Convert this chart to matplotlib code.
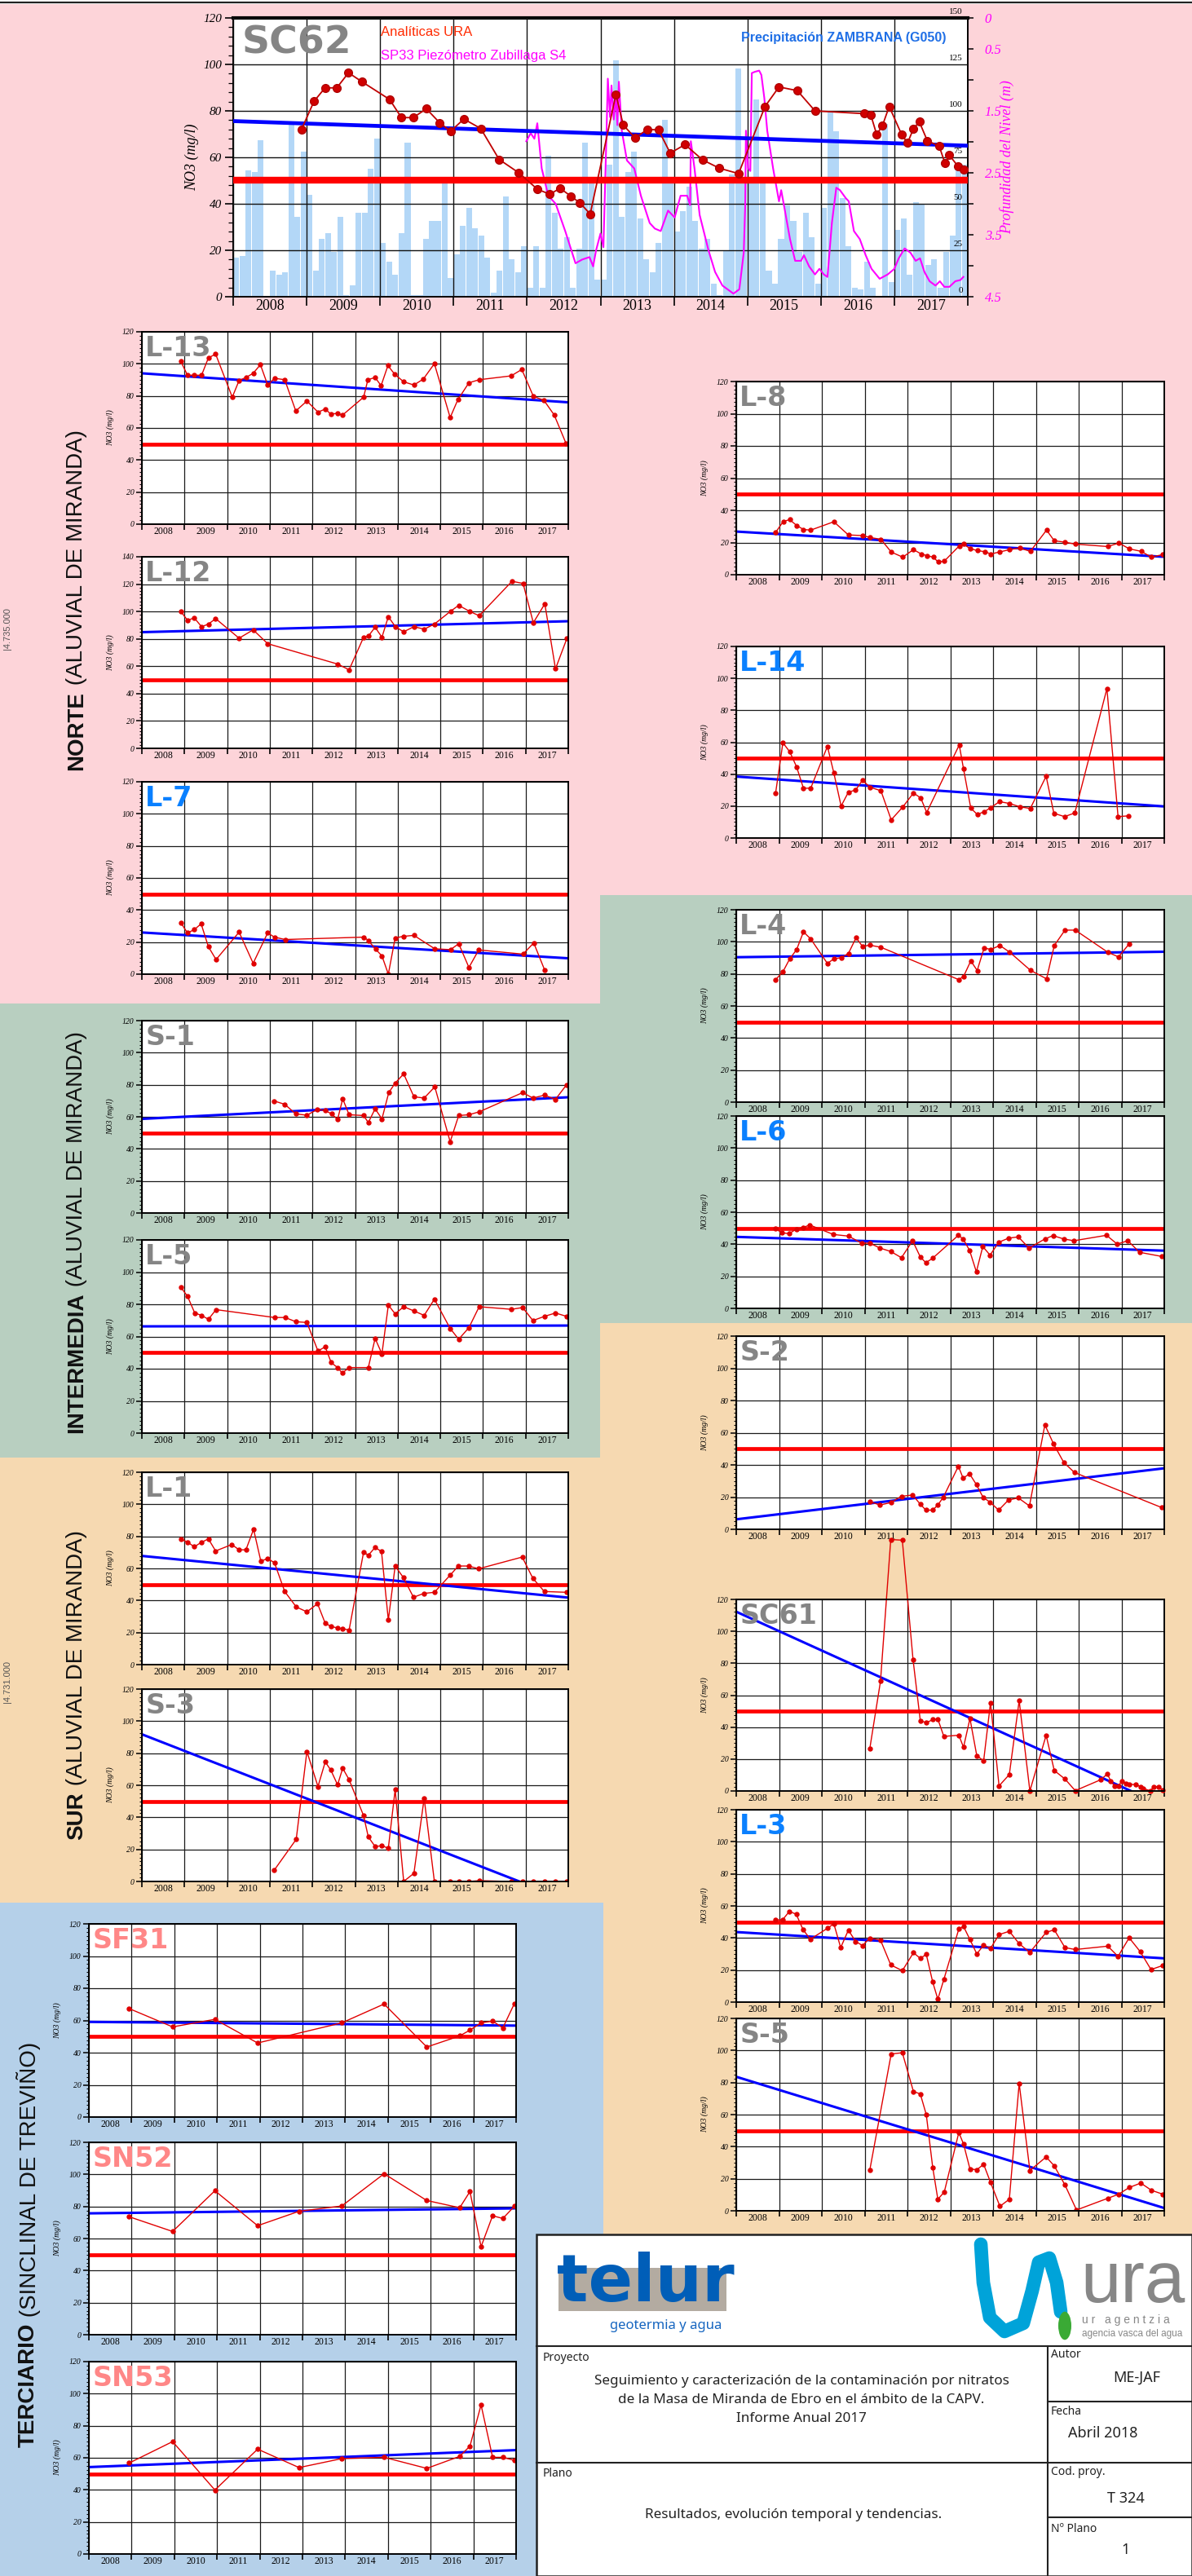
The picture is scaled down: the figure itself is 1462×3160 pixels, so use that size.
import numpy as np
import matplotlib.pyplot as plt
from matplotlib.patches import Rectangle, Circle
from matplotlib.lines import Line2D
from matplotlib.ticker import MultipleLocator
import matplotlib.transforms as mtransforms

plt.rcParams['font.family'] = ['Liberation Sans', 'DejaVu Sans']

YEARS = [str(y) for y in range(2008, 2018)]

# ---------------- SC62 (main chart) ----------------
sc62_t = [2008.93, 2009.10, 2009.25, 2009.41, 2009.57, 2009.75, 2010.13, 2010.29, 2010.45, 2010.63,
          2010.81, 2010.96, 2011.14, 2011.37, 2011.62, 2011.89, 2012.14, 2012.31, 2012.45, 2012.60,
          2012.72, 2012.86, 2013.21, 2013.31, 2013.47, 2013.64, 2013.79, 2013.95, 2014.15, 2014.39,
          2014.62, 2014.88, 2015.24, 2015.43, 2015.68, 2015.92, 2016.59, 2016.68, 2016.76, 2016.84,
          2016.93, 2017.10, 2017.18, 2017.26, 2017.34, 2017.45, 2017.61, 2017.69, 2017.75, 2017.87,
          2017.95]
sc62_no3 = [72.0, 84.1, 89.9, 89.9, 96.4, 92.6, 84.9, 77.1, 77.1, 80.9,
            74.9, 71.2, 76.5, 72.4, 59.1, 53.3, 46.3, 44.1, 46.7, 43.2,
            40.4, 35.6, 87.1, 73.9, 68.4, 72.0, 71.8, 61.8, 65.5, 58.9,
            55.3, 53.0, 81.9, 90.3, 88.7, 80.0, 78.8, 78.2, 69.8, 73.8,
            81.9, 69.8, 66.2, 72.3, 75.3, 67.1, 64.9, 57.4, 60.9, 56.0,
            54.9]
sc62_trend = [75.6, 65.0]

# monthly precipitation (mm), Zambrana G050, 2008-2017
precip_mm = [21, 22, 68, 67, 84, 0, 14, 12, 13, 93, 43, 78,
             55, 14, 31, 34, 24, 43, 1, 6, 45, 45, 69, 85,
             29, 19, 12, 34, 83, 1, 1, 31, 41, 41, 63, 10,
             23, 38, 48, 37, 33, 21, 2, 14, 54, 20, 13, 27,
             5, 27, 5, 76, 45, 26, 32, 5, 26, 83, 64, 9,
             9, 71, 127, 43, 67, 78, 42, 20, 13, 29, 95, 64,
             35, 46, 59, 41, 26, 31, 7, 1, 25, 66, 123, 64,
             62, 106, 61, 14, 7, 31, 49, 41, 24, 45, 32, 7,
             48, 100, 89, 53, 27, 5, 4, 19, 5, 0, 93, 8,
             36, 42, 12, 51, 50, 17, 20, 5, 24, 33, 71, 71]

# SP33 piezometer depth (m)
piezo_t = [2011.99, 2012.05, 2012.10, 2012.14, 2012.20, 2012.29, 2012.39, 2012.52, 2012.66, 2012.75,
           2012.85, 2012.90, 2012.94, 2013.00, 2013.04, 2013.08, 2013.10, 2013.13, 2013.15, 2013.18,
           2013.21, 2013.23, 2013.25, 2013.29, 2013.36, 2013.46, 2013.55, 2013.67, 2013.74, 2013.82,
           2013.92, 2014.01, 2014.09, 2014.18, 2014.22, 2014.23, 2014.28, 2014.35, 2014.47, 2014.56,
           2014.66, 2014.81, 2014.89, 2014.95, 2014.97, 2014.98, 2015.01, 2015.04, 2015.06, 2015.10,
           2015.16, 2015.19, 2015.23, 2015.27, 2015.35, 2015.43, 2015.46, 2015.50, 2015.58, 2015.65,
           2015.73, 2015.77, 2015.84, 2015.92, 2015.98, 2016.04, 2016.09, 2016.15, 2016.21, 2016.26,
           2016.34, 2016.38, 2016.45, 2016.53, 2016.61, 2016.69, 2016.80, 2016.91, 2017.00, 2017.06,
           2017.14, 2017.22, 2017.29, 2017.35, 2017.41, 2017.48, 2017.56, 2017.62, 2017.68, 2017.75,
           2017.83, 2017.90, 2017.94]
piezo_depth = [1.99, 1.86, 1.95, 1.70, 2.43, 2.87, 3.00, 3.44, 3.96, 3.90,
               3.86, 4.01, 3.75, 3.48, 3.70, 1.95, 0.98, 1.60, 1.09, 1.64,
               1.25, 1.73, 1.03, 1.82, 2.30, 2.43, 2.87, 3.31, 3.40, 3.44,
               3.11, 3.22, 2.87, 2.87, 3.02, 1.99, 2.43, 3.18, 3.75, 4.10,
               4.32, 4.45, 4.38, 3.79, 3.04, 1.82, 2.43, 2.47, 0.89, 0.87,
               0.85, 0.92, 1.29, 1.82, 2.43, 2.96, 2.78, 3.04, 3.57, 3.92,
               3.92, 3.83, 4.01, 4.14, 4.05, 4.14, 4.18, 3.31, 2.74, 2.78,
               2.91, 2.96, 3.44, 3.57, 3.83, 4.05, 4.21, 4.14, 4.05, 3.88,
               3.72, 3.79, 3.92, 3.88, 4.10, 4.25, 4.32, 4.25, 4.34, 4.34,
               4.25, 4.23, 4.18]

# ---------------- wells: NO3 (mg/l) ----------------
l13_t = [2008.91, 2009.07, 2009.23, 2009.40, 2009.56, 2009.73, 2010.12, 2010.28, 2010.44, 2010.61,
         2010.78, 2010.95, 2011.11, 2011.35, 2011.61, 2011.87, 2012.13, 2012.30, 2012.43, 2012.59,
         2012.70, 2013.20, 2013.30, 2013.47, 2013.61, 2013.77, 2013.93, 2014.14, 2014.38, 2014.60,
         2014.86, 2015.23, 2015.41, 2015.67, 2015.91, 2016.66, 2016.91, 2017.18, 2017.43, 2017.67,
         2017.95]
l13_no3 = [101.7, 92.9, 92.9, 92.9, 103.7, 106.1, 79.2, 89.6, 91.5, 94.1,
           99.5, 86.8, 91.0, 90.1, 70.6, 76.8, 69.9, 71.8, 68.7, 69.1,
           67.9, 79.2, 90.1, 91.5, 86.4, 98.9, 93.5, 88.8, 86.8, 90.5,
           100.1, 66.5, 77.6, 88.2, 90.1, 92.5, 96.5, 79.8, 77.2, 68.1,
           50.2]
l13_trend = [94.1, 76.0]

l12_t = [2008.91, 2009.07, 2009.23, 2009.40, 2009.56, 2009.73, 2010.28, 2010.61, 2010.95, 2012.59,
         2012.86, 2013.20, 2013.32, 2013.47, 2013.63, 2013.78, 2013.95, 2014.14, 2014.38, 2014.62,
         2014.86, 2015.24, 2015.43, 2015.68, 2015.91, 2016.68, 2016.94, 2017.18, 2017.45, 2017.70,
         2017.97]
l12_no3 = [100.2, 93.6, 95.3, 88.9, 90.8, 94.8, 80.5, 86.6, 76.5, 61.6,
           57.4, 81.2, 82.4, 88.5, 81.2, 96.2, 88.7, 85.2, 88.9, 87.1,
           90.8, 100.2, 104.5, 100.2, 96.9, 122.1, 120.5, 91.8, 105.6, 58.1,
           80.5]
l12_trend = [84.9, 92.9]

l7_t = [2008.91, 2009.07, 2009.23, 2009.39, 2009.56, 2009.74, 2010.28, 2010.61, 2010.95, 2011.11,
        2011.36, 2013.21, 2013.31, 2013.48, 2013.63, 2013.78, 2013.94, 2014.14, 2014.38, 2014.87,
        2015.24, 2015.43, 2015.67, 2015.90, 2016.94, 2017.19, 2017.45]
l7_no3 = [32.2, 25.7, 27.8, 31.4, 17.1, 9.1, 26.2, 6.8, 25.7, 23.1,
          21.6, 23.1, 21.0, 15.6, 11.4, 0.0, 22.6, 23.6, 24.2, 15.8,
          15.3, 19.0, 4.2, 15.1, 12.5, 19.5, 2.3]
l7_trend = [26.0, 9.9]

s1_t = [2011.10, 2011.35, 2011.61, 2011.87, 2012.12, 2012.30, 2012.45, 2012.59, 2012.71, 2012.86,
        2013.20, 2013.31, 2013.47, 2013.63, 2013.79, 2013.94, 2014.14, 2014.38, 2014.62, 2014.87,
        2015.23, 2015.43, 2015.67, 2015.91, 2016.93, 2017.17, 2017.44, 2017.70, 2017.96]
s1_no3 = [69.9, 67.8, 61.8, 61.0, 64.7, 63.9, 61.8, 58.4, 71.2, 61.3,
          60.8, 56.4, 65.0, 58.7, 75.1, 81.0, 86.8, 72.5, 71.7, 78.7,
          44.4, 60.8, 61.3, 63.1, 75.1, 71.7, 73.5, 70.9, 80.0]
s1_trend = [58.7, 72.2]

l5_t = [2008.91, 2009.07, 2009.24, 2009.40, 2009.56, 2009.74, 2011.11, 2011.36, 2011.61, 2011.87,
        2012.13, 2012.30, 2012.44, 2012.59, 2012.70, 2012.86, 2013.31, 2013.47, 2013.63, 2013.78,
        2013.94, 2014.14, 2014.38, 2014.62, 2014.86, 2015.23, 2015.43, 2015.67, 2015.91, 2016.67,
        2016.93, 2017.17, 2017.44, 2017.70, 2017.96]
l5_no3 = [90.7, 85.0, 74.6, 73.1, 70.7, 76.7, 71.8, 71.8, 69.2, 68.7,
          51.0, 53.6, 43.8, 40.7, 37.3, 40.7, 40.7, 58.8, 49.2, 79.5,
          74.1, 78.5, 75.9, 73.1, 83.2, 65.0, 58.3, 65.5, 78.5, 76.9,
          78.0, 69.9, 72.5, 74.6, 72.5]
l5_trend = [66.3, 66.8]

l1_t = [2008.91, 2009.07, 2009.23, 2009.39, 2009.56, 2009.73, 2010.11, 2010.28, 2010.44, 2010.62,
        2010.79, 2010.95, 2011.11, 2011.35, 2011.62, 2011.87, 2012.12, 2012.30, 2012.44, 2012.58,
        2012.71, 2012.86, 2013.20, 2013.31, 2013.47, 2013.62, 2013.78, 2013.94, 2014.13, 2014.37,
        2014.61, 2014.86, 2015.23, 2015.42, 2015.66, 2015.90, 2016.92, 2017.17, 2017.44, 2017.96]
l1_no3 = [78.4, 76.4, 73.5, 76.2, 78.4, 70.9, 74.9, 71.6, 71.6, 84.4,
          64.5, 66.2, 63.5, 45.6, 36.0, 32.9, 38.0, 25.8, 23.8, 22.9,
          22.4, 21.6, 70.2, 68.2, 73.1, 70.5, 27.8, 61.5, 54.4, 42.0,
          44.4, 45.1, 55.8, 61.5, 61.5, 59.8, 67.1, 53.8, 45.6, 45.1]
l1_trend = [67.8, 41.8]

s3_t = [2011.10, 2011.62, 2011.87, 2012.13, 2012.30, 2012.43, 2012.59, 2012.71, 2012.86, 2013.20,
        2013.31, 2013.47, 2013.63, 2013.78, 2013.94, 2014.14, 2014.38, 2014.62, 2014.86, 2015.23,
        2015.43, 2015.67, 2015.91, 2016.67, 2016.93, 2017.18, 2017.44, 2017.70, 2017.96]
s3_no3 = [6.9, 26.3, 81.1, 59.2, 74.6, 69.5, 60.3, 70.6, 63.5, 41.0,
          27.8, 21.8, 22.3, 20.7, 57.4, 0.0, 5.1, 51.9, 0.0, 0.0,
          0.0, 0.0, 0.5, 0.0, 0.0, 0.0, 0.0, 0.0, 0.0]
s3_trend = [91.8, -11.9]

sf31_t = [2008.94, 2009.96, 2010.95, 2011.95, 2013.92, 2014.91, 2015.91, 2016.68, 2016.92, 2017.18,
          2017.45, 2017.69, 2017.96]
sf31_no3 = [67.4, 56.0, 60.7, 46.0, 58.5, 70.2, 43.5, 50.4, 54.0, 58.5, 59.6, 55.4, 70.5]
sf31_trend = [59.1, 56.8]

sn52_t = [2008.94, 2009.96, 2010.95, 2011.95, 2012.92, 2013.92, 2014.91, 2015.91, 2016.68, 2016.92,
          2017.18, 2017.45, 2017.69, 2017.96]
sn52_no3 = [73.6, 64.4, 89.8, 68.0, 77.0, 80.3, 100.4, 83.7, 79.2, 89.3, 54.9, 74.2, 72.5, 80.1]
sn52_trend = [75.7, 78.8]

sn53_t = [2008.94, 2009.96, 2010.95, 2011.95, 2012.92, 2013.92, 2014.91, 2015.91, 2016.68, 2016.92,
          2017.18, 2017.45, 2017.69, 2017.96]
sn53_no3 = [56.7, 70.1, 39.9, 65.4, 53.9, 59.5, 60.3, 53.4, 60.9, 67.3, 93.0, 60.3, 60.3, 58.4]
sn53_trend = [54.2, 64.8]

l8_t = [2008.92, 2009.10, 2009.25, 2009.41, 2009.57, 2009.74, 2010.28, 2010.62, 2010.96, 2011.13,
        2011.38, 2011.62, 2011.89, 2012.14, 2012.32, 2012.46, 2012.60, 2012.72, 2012.86, 2013.21,
        2013.31, 2013.47, 2013.64, 2013.80, 2013.95, 2014.15, 2014.39, 2014.62, 2014.87, 2015.25,
        2015.43, 2015.68, 2015.92, 2016.68, 2016.94, 2017.18, 2017.46, 2017.70, 2017.96]
l8_no3 = [26.3, 33.1, 34.2, 30.6, 28.1, 27.7, 32.9, 24.7, 24.3, 23.1,
          22.0, 14.1, 10.9, 15.6, 12.9, 11.8, 10.9, 7.9, 8.4, 17.9,
          19.0, 16.1, 15.0, 14.3, 12.9, 14.1, 15.6, 16.6, 14.5, 27.7,
          21.1, 20.2, 19.0, 17.5, 19.7, 16.1, 14.5, 10.9, 12.5]
l8_trend = [26.8, 11.1]

l14_t = [2008.92, 2009.09, 2009.25, 2009.41, 2009.57, 2009.74, 2010.13, 2010.28, 2010.45, 2010.62,
         2010.79, 2010.95, 2011.12, 2011.38, 2011.62, 2011.89, 2012.14, 2012.31, 2012.45, 2013.21,
         2013.31, 2013.48, 2013.63, 2013.79, 2013.95, 2014.15, 2014.39, 2014.62, 2014.87, 2015.24,
         2015.42, 2015.67, 2015.91, 2016.66, 2016.92, 2017.17]
l14_no3 = [28.2, 59.7, 54.0, 44.6, 31.2, 31.2, 57.4, 40.8, 20.0, 28.7,
           30.1, 36.2, 31.9, 29.6, 11.4, 19.4, 28.2, 25.1, 16.0, 58.3,
           43.3, 18.7, 14.8, 16.4, 19.1, 22.8, 21.6, 19.6, 18.5, 38.7,
           15.5, 13.4, 15.7, 93.6, 13.4, 13.9]
l14_trend = [38.5, 19.8]

l4_t = [2008.92, 2009.09, 2009.25, 2009.41, 2009.57, 2009.74, 2010.13, 2010.28, 2010.45, 2010.62,
        2010.80, 2010.95, 2011.12, 2011.38, 2013.20, 2013.31, 2013.48, 2013.63, 2013.79, 2013.95,
        2014.16, 2014.39, 2014.87, 2015.25, 2015.43, 2015.68, 2015.92, 2016.68, 2016.93, 2017.18]
l4_no3 = [76.4, 81.3, 89.4, 95.1, 106.2, 101.8, 86.5, 89.4, 90.1, 92.7,
          102.6, 97.1, 97.9, 96.6, 76.4, 78.4, 88.1, 82.1, 96.1, 95.3,
          97.7, 93.5, 82.3, 76.9, 97.7, 107.3, 107.3, 93.5, 90.6, 98.7]
l4_trend = [90.4, 93.8]

l6_t = [2008.91, 2009.07, 2009.23, 2009.40, 2009.56, 2009.72, 2010.27, 2010.62, 2010.93, 2011.12,
        2011.36, 2011.61, 2011.86, 2012.12, 2012.30, 2012.43, 2012.59, 2013.19, 2013.30, 2013.45,
        2013.61, 2013.76, 2013.93, 2014.13, 2014.36, 2014.59, 2014.84, 2015.21, 2015.40, 2015.65,
        2015.89, 2016.65, 2016.90, 2017.15, 2017.42, 2017.94]
l6_no3 = [49.7, 47.2, 46.6, 49.4, 50.5, 52.0, 46.1, 45.1, 40.7, 40.7,
          37.6, 35.5, 31.6, 42.2, 32.1, 28.5, 31.3, 45.6, 43.3, 36.3,
          22.8, 38.6, 33.2, 41.2, 43.8, 44.6, 37.6, 43.3, 45.4, 43.3,
          42.2, 45.6, 40.1, 42.2, 35.0, 32.4]
l6_trend = [44.6, 36.0]

s2_t = [2011.12, 2011.36, 2011.61, 2011.86, 2012.12, 2012.30, 2012.43, 2012.59, 2012.71, 2012.84,
        2013.19, 2013.30, 2013.45, 2013.61, 2013.77, 2013.93, 2014.13, 2014.36, 2014.59, 2014.85,
        2015.21, 2015.41, 2015.65, 2015.90, 2017.94]
s2_no3 = [17.1, 15.1, 16.6, 20.5, 21.3, 15.6, 11.9, 11.9, 15.1, 20.0,
          39.2, 31.7, 34.5, 27.8, 19.7, 16.9, 11.9, 18.2, 19.5, 14.5,
          64.9, 53.2, 41.6, 35.3, 13.5]
s2_trend = [6.2, 37.9]

sc61_t = [2011.12, 2011.37, 2011.61, 2011.88, 2012.13, 2012.30, 2012.44, 2012.59, 2012.71, 2012.85,
          2013.20, 2013.31, 2013.46, 2013.62, 2013.78, 2013.94, 2014.14, 2014.38, 2014.61, 2014.86,
          2015.24, 2015.43, 2015.68, 2015.92, 2016.52, 2016.67, 2016.75, 2016.84, 2016.93, 2017.01,
          2017.11, 2017.19, 2017.33, 2017.45, 2017.51, 2017.68, 2017.75, 2017.86, 2017.96]
sc61_no3 = [26.5, 68.7, 157.5, 157.1, 82.4, 44.1, 42.7, 44.7, 45.0, 34.2,
            34.9, 27.4, 45.4, 22.1, 18.9, 55.3, 3.2, 10.3, 56.6, 0.0,
            34.9, 12.8, 7.5, 0.2, 7.1, 10.7, 6.2, 3.2, 3.2, 6.2,
            4.8, 4.1, 4.1, 2.7, 1.6, 0.0, 2.7, 2.7, 0.7]
sc61_trend = [112.3, -9.5]

l3_t = [2008.91, 2009.08, 2009.24, 2009.40, 2009.56, 2009.73, 2010.14, 2010.28, 2010.44, 2010.62,
        2010.79, 2010.95, 2011.12, 2011.37, 2011.61, 2011.88, 2012.14, 2012.30, 2012.44, 2012.59,
        2012.71, 2012.85, 2013.20, 2013.31, 2013.46, 2013.62, 2013.78, 2013.94, 2014.14, 2014.38,
        2014.61, 2014.86, 2015.24, 2015.43, 2015.68, 2015.92, 2016.68, 2016.92, 2017.18, 2017.44,
        2017.69, 2017.96]
l3_no3 = [51.3, 51.3, 56.5, 54.9, 45.3, 39.2, 46.2, 48.9, 34.0, 44.9,
          37.8, 35.3, 39.9, 38.7, 23.2, 19.6, 30.8, 27.3, 29.8, 12.5,
          1.8, 14.1, 45.6, 47.2, 39.0, 30.1, 35.5, 33.5, 42.1, 44.2,
          36.4, 31.0, 43.5, 45.1, 34.0, 32.8, 34.9, 28.5, 40.1, 31.4,
          20.3, 22.8]
l3_trend = [43.7, 27.3]

s5_t = [2011.12, 2011.62, 2011.88, 2012.14, 2012.30, 2012.44, 2012.59, 2012.71, 2012.86, 2013.20,
        2013.31, 2013.46, 2013.62, 2013.78, 2013.94, 2014.16, 2014.38, 2014.61, 2014.86, 2015.24,
        2015.43, 2015.68, 2015.95, 2016.68, 2016.93, 2017.18, 2017.45, 2017.70, 2017.97]
s5_no3 = [25.4, 97.8, 98.6, 74.4, 72.9, 60.0, 27.1, 7.2, 11.7, 48.8,
          41.7, 26.1, 25.6, 29.0, 17.8, 2.8, 7.2, 79.5, 25.1, 33.6,
          28.0, 16.1, 0.5, 7.8, 10.3, 14.5, 17.3, 12.8, 10.3]
s5_trend = [83.6, 1.7]

# ---------------- figure ----------------
W, H = 1462, 3160
fig = plt.figure(figsize=(W / 100, H / 100), dpi=100)

PINK = '#fdd4d9'
GREEN = '#b8cfc0'
TAN = '#f6d9b1'
LBLUE = '#b5d0e9'
GRAYN = '#858585'
BLUEN = '#0a80ff'
SALMON = '#ff8787'
SERIF = 'Liberation Serif'


def px_rect(x0, x1, y0, y1):
    return [x0 / W, 1 - y1 / H, (x1 - x0) / W, (y1 - y0) / H]


def bg(x0, x1, y0, y1, color):
    fig.add_artist(Rectangle((x0 / W, 1 - y1 / H), (x1 - x0) / W, (y1 - y0) / H,
                             transform=fig.transFigure, facecolor=color,
                             edgecolor='none', zorder=-10))


def ftext(x, y, s, **kw):
    return fig.text(x / W, 1 - y / H, s, **kw)


def fline(x0, y0, x1, y1, lw=1.5, color='#222222', z=2):
    fig.add_artist(Line2D([x0 / W, x1 / W], [1 - y0 / H, 1 - y1 / H],
                          transform=fig.transFigure, color=color, lw=lw, zorder=z))


# background bands
bg(0, 736, 5, 1231, PINK)
bg(736, W, 5, 1098, PINK)
bg(0, 736, 1231, 1788, GREEN)
bg(736, W, 1098, 1623, GREEN)
bg(0, 736, 1788, 2334, TAN)
bg(736, W, 1623, 2741, TAN)
bg(0, 740, 2334, H, LBLUE)
fline(0, 3, W, 3, lw=1.6, color='#222222')


def year_axis(ax, size, ticklen):
    ax.set_xlim(2008, 2018)
    ax.set_xticks(range(2008, 2019))
    ax.set_xticklabels([])
    ax.set_xticks(np.arange(2008.5, 2018, 1), minor=True)
    ax.set_xticklabels(YEARS, minor=True, fontsize=size, family=SERIF)
    ax.tick_params(axis='x', which='major', direction='out', length=ticklen, width=1.2)
    ax.tick_params(axis='x', which='minor', length=0, pad=2)


def well_chart(x0, x1, y0, y1, name, name_color, t, no3, trend, ymax=120, clip=True):
    ax = fig.add_axes(px_rect(x0, x1, y0, y1))
    ax.set_facecolor('white')
    year_axis(ax, 8.5, 5)
    ax.set_ylim(0, ymax)
    yt = list(range(0, ymax + 1, 20))
    ax.set_yticks(yt)
    ax.set_yticklabels([str(v) for v in yt], fontsize=7, style='italic', family=SERIF)
    ax.yaxis.set_minor_locator(MultipleLocator(2.5))
    ax.tick_params(axis='y', which='major', direction='out', length=5, width=1.1, pad=2)
    ax.tick_params(axis='y', which='minor', direction='out', length=2.5, width=0.8)
    ax.grid(True, which='major', color='#1a1a1a', lw=0.9)
    for s in ax.spines.values():
        s.set_linewidth(1.4)
    ax.plot([2008, 2018], [50, 50], color='#ff0000', lw=3.4, solid_capstyle='butt')
    ax.plot([2008, 2018], trend, color='#0000ff', lw=2.2)
    ax.plot(t, no3, color='#e00000', lw=1.0, marker='o', ms=3.6, clip_on=clip)
    ax.set_ylabel('NO3 (mg/l)', fontsize=7, style='italic', family=SERIF)
    ax.yaxis.set_label_coords(-34 / (x1 - x0), 0.5)
    ax.text(0.008, 0.985, name, transform=ax.transAxes, ha='left', va='top',
            fontsize=24, fontweight='bold', color=name_color, family='DejaVu Sans')
    return ax


# ---------------- SC62 chart ----------------
SC = (286, 1187, 22, 364)
ax_p = fig.add_axes(px_rect(*SC))
ax_p.set_facecolor('white')
months = 2008 + (np.arange(len(precip_mm)) + 0.5) / 12
ax_p.bar(months, precip_mm, width=1 / 12 * 0.94, color='#b3d7f7', edgecolor='none', zorder=1)
ax_p.set_ylim(0, 150)
year_axis(ax_p, 13, 8)
ax_p.set_yticks(range(0, 151, 25))
ax_p.tick_params(axis='y', which='both', left=False, right=False, labelleft=False)
ax_p.set_axisbelow(False)
ax_p.grid(True, which='major', color='#111111', lw=1.0, zorder=2)
ax_p.spines['top'].set_linewidth(3)
for k in ('left', 'bottom', 'right'):
    ax_p.spines[k].set_linewidth(1.4)
ptrans = mtransforms.blended_transform_factory(ax_p.transAxes, ax_p.transData)
for v in range(0, 151, 25):
    ax_p.text(0.993, v + 1.5, str(v), transform=ptrans, ha='right', va='bottom',
              fontsize=8, family=SERIF, zorder=5)

ax_d = fig.add_axes(px_rect(*SC))
ax_d.patch.set_visible(False)
ax_d.set_xlim(2008, 2018)
ax_d.set_ylim(4.5, 0)
ax_d.plot(piezo_t, piezo_depth, color='#ff00ff', lw=1.5)
ax_d.xaxis.set_visible(False)
ax_d.yaxis.tick_right()
dt = np.arange(0, 4.51, 0.5)
ax_d.set_yticks(dt)
dlab = ['0', '0.5', '', '1.5', '', '2.5', '', '3.5', '', '4.5']
ax_d.set_yticklabels(dlab, fontsize=12, style='italic', family=SERIF, color='#ff00ff')
ax_d.tick_params(axis='y', direction='out', length=5, width=1.1, pad=10)
for s in ax_d.spines.values():
    s.set_visible(False)
ax_d.yaxis.set_label_position('right')
ax_d.set_ylabel('Profundidad del Nivel (m)', fontsize=13, style='italic',
                family=SERIF, color='#ff00ff')
ax_d.yaxis.set_label_coords((1226 - 286) / (1187 - 286), 0.5)

ax_n = fig.add_axes(px_rect(*SC))
ax_n.patch.set_visible(False)
ax_n.set_xlim(2008, 2018)
ax_n.set_ylim(0, 120)
ax_n.xaxis.set_visible(False)
for s in ax_n.spines.values():
    s.set_visible(False)
ax_n.set_yticks(range(0, 121, 20))
ax_n.set_yticklabels([str(v) for v in range(0, 121, 20)], fontsize=11, style='italic', family=SERIF)
ax_n.yaxis.set_minor_locator(MultipleLocator(4))
ax_n.tick_params(axis='y', which='major', direction='out', length=7, width=1.2, pad=3)
ax_n.tick_params(axis='y', which='minor', direction='out', length=4, width=0.9)
ax_n.plot([2008, 2018], [50, 50], color='#ff0000', lw=6, solid_capstyle='butt')
ax_n.plot([2008, 2018], sc62_trend, color='#0000ff', lw=3.4)
ax_n.plot(sc62_t, sc62_no3, color='#c00000', lw=1.3, marker='o', ms=7,
          markerfacecolor='#d00000', markeredgecolor='#b00000')
ax_n.set_ylabel('NO3 (mg/l)', fontsize=13, style='italic', family=SERIF)
ax_n.yaxis.set_label_coords(-42 / (1187 - 286), 0.5)

ftext(297, 30, 'SC62', fontsize=34, fontweight='bold', color=GRAYN, family='DejaVu Sans',
      ha='left', va='top', zorder=10)
ftext(467, 40, 'Analíticas URA', fontsize=12, color='#ff2a00', ha='left', va='center', zorder=10)
ftext(467, 69, 'SP33 Piezómetro Zubillaga S4', fontsize=12, color='#ff00ff', ha='left',
      va='center', zorder=10)
ftext(909, 47, 'Precipitación ZAMBRANA (G050)', fontsize=11.5, fontweight='bold',
      color='#1f6fe6', ha='left', va='center', zorder=10)

# ---------------- well charts ----------------
well_chart(174, 697, 407, 643, 'L-13', GRAYN, l13_t, l13_no3, l13_trend)
well_chart(174, 697, 683, 918, 'L-12', GRAYN, l12_t, l12_no3, l12_trend, ymax=140)
well_chart(174, 697, 959, 1195, 'L-7', BLUEN, l7_t, l7_no3, l7_trend)
well_chart(174, 697, 1252, 1488, 'S-1', GRAYN, s1_t, s1_no3, s1_trend)
well_chart(174, 697, 1521, 1758, 'L-5', GRAYN, l5_t, l5_no3, l5_trend)
well_chart(174, 697, 1806, 2042, 'L-1', GRAYN, l1_t, l1_no3, l1_trend)
well_chart(174, 697, 2072, 2308, 'S-3', GRAYN, s3_t, s3_no3, s3_trend)
well_chart(109, 633, 2360, 2597, 'SF31', SALMON, sf31_t, sf31_no3, sf31_trend)
well_chart(109, 633, 2628, 2864, 'SN52', SALMON, sn52_t, sn52_no3, sn52_trend)
well_chart(109, 633, 2897, 3133, 'SN53', SALMON, sn53_t, sn53_no3, sn53_trend)

well_chart(903, 1428, 468, 705, 'L-8', GRAYN, l8_t, l8_no3, l8_trend)
well_chart(903, 1428, 793, 1028, 'L-14', BLUEN, l14_t, l14_no3, l14_trend)
well_chart(903, 1428, 1116, 1352, 'L-4', GRAYN, l4_t, l4_no3, l4_trend)
well_chart(903, 1428, 1369, 1605, 'L-6', BLUEN, l6_t, l6_no3, l6_trend)
well_chart(903, 1428, 1639, 1876, 'S-2', GRAYN, s2_t, s2_no3, s2_trend)
well_chart(903, 1428, 1962, 2197, 'SC61', GRAYN, sc61_t, sc61_no3, sc61_trend, clip=False)
well_chart(903, 1428, 2220, 2456, 'L-3', BLUEN, l3_t, l3_no3, l3_trend)
well_chart(903, 1428, 2476, 2712, 'S-5', GRAYN, s5_t, s5_no3, s5_trend)

# ---------------- section labels ----------------
renderer = fig.canvas.get_renderer()


def section_label(x, y_start, bold, rest):
    t1 = ftext(x, y_start, bold, rotation=90, rotation_mode='anchor', ha='left',
               va='center', fontsize=20, fontweight='bold', color='#111111')
    h = t1.get_window_extent(renderer).height
    ftext(x, y_start - h, rest, rotation=90, rotation_mode='anchor', ha='left',
          va='center', fontsize=20, color='#111111')


section_label(94, 945, 'NORTE', ' (ALUVIAL DE MIRANDA)')
section_label(94, 1758, 'INTERMEDIA', ' (ALUVIAL DE MIRANDA)')
section_label(94, 2257, 'SUR', ' (ALUVIAL DE MIRANDA)')
section_label(35, 3002, 'TERCIARIO', ' (SINCLINAL DE TREVIÑO)')

ftext(9, 797, '|4.735.000', rotation=90, rotation_mode='anchor', ha='left', va='center',
      fontsize=8, color='#555555')
ftext(9, 2089, '|4.731.000', rotation=90, rotation_mode='anchor', ha='left', va='center',
      fontsize=8, color='#555555')

# ---------------- title block ----------------
fig.add_artist(Rectangle((658 / W, 0), (W - 658) / W, (H - 2741) / H, transform=fig.transFigure,
                         facecolor='white', edgecolor='#222222', lw=1.8, zorder=1))
fline(658, 2878, W, 2878)
fline(658, 3021, W, 3021)
fline(1285, 2878, 1285, H)
fline(1285, 2946, W, 2946)
fline(1285, 3088, W, 3088)

# telur logo
fig.add_artist(Rectangle((685 / W, 1 - 2835 / H), 206 / W, 53 / H, transform=fig.transFigure,
                         facecolor='#b3aba1', edgecolor='none', zorder=2))
ftext(683, 2840, 'telur', fontsize=58, fontweight='bold', color='#005eb8',
      family='DejaVu Sans', ha='left', va='bottom', zorder=3)
ftext(748, 2853, 'geotermia y agua', fontsize=12, color='#1565c0', family='Noto Sans',
      ha='left', va='center', zorder=3)

# ura logo
ux = [1203, 1206, 1214, 1232, 1255, 1266, 1274, 1287, 1296, 1301]
uy = [2753, 2800, 2843, 2860, 2850, 2810, 2775, 2770, 2800, 2836]
fig.add_artist(Line2D(np.array(ux) / W, 1 - np.array(uy) / H, transform=fig.transFigure,
                      color='#00a3d9', lw=12, solid_capstyle='round',
                      solid_joinstyle='round', zorder=3))
fig.add_artist(Circle((1306 / W, 1 - 2853 / H), 8 / W, transform=fig.transFigure,
                      facecolor='#3aaa35', edgecolor='none', zorder=3))
ftext(1325, 2824, 'ura', fontsize=64, color='#878787', ha='left', va='baseline', zorder=3)
ftext(1327, 2846, 'u r   a g e n t z i a', fontsize=10, color='#878787', ha='left',
      va='center', zorder=3)
ftext(1327, 2863, 'agencia vasca del agua', fontsize=8.5, color='#878787', ha='left',
      va='center', zorder=3)

TB = dict(family='Noto Sans', color='#222222', zorder=3)
ftext(666, 2893, 'Proyecto', fontsize=10, ha='left', va='center', **TB)
ftext(983, 2944, 'Seguimiento y caracterización de la contaminación por nitratos\n'
      'de la Masa de Miranda de Ebro en el ámbito de la CAPV.\nInforme Anual 2017',
      fontsize=12.3, ha='center', va='center', multialignment='center', linespacing=1.55, **TB)
ftext(666, 3035, 'Plano', fontsize=10, ha='left', va='center', **TB)
ftext(973, 3085, 'Resultados, evolución temporal y tendencias.', fontsize=12.3,
      ha='center', va='center', **TB)
ftext(1289, 2888, 'Autor', fontsize=10, ha='left', va='center', **TB)
ftext(1394, 2917, 'ME-JAF', fontsize=13, ha='center', va='center', **TB)
ftext(1289, 2958, 'Fecha', fontsize=10, ha='left', va='center', **TB)
ftext(1353, 2985, 'Abril 2018', fontsize=13, ha='center', va='center', **TB)
ftext(1289, 3032, 'Cod. proy.', fontsize=10, ha='left', va='center', **TB)
ftext(1381, 3065, 'T 324', fontsize=13, ha='center', va='center', **TB)
ftext(1289, 3102, 'Nº Plano', fontsize=10, ha='left', va='center', **TB)
ftext(1381, 3128, '1', fontsize=13, ha='center', va='center', **TB)

fig.savefig('out.png', dpi=100, facecolor='white')
